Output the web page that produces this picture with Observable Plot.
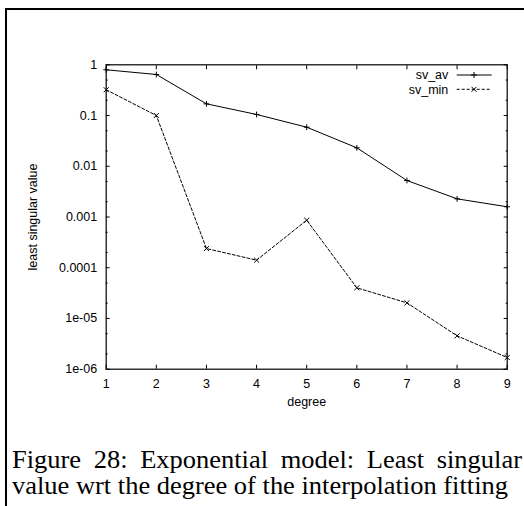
<!DOCTYPE html>
<html><head><meta charset="utf-8">
<script src="https://cdn.jsdelivr.net/npm/d3@7"></script>
<script src="https://cdn.jsdelivr.net/npm/@observablehq/plot@0.6"></script>
<style>
html,body{margin:0;padding:0;background:#fff;width:524px;height:506px;overflow:hidden;position:relative}
#frame{position:absolute;left:5px;top:8px;width:540px;height:520px;border-top:2px solid #000;border-left:2px solid #000}
#chart{position:absolute;left:0;top:0}
#caption{position:absolute;left:12px;top:447px;width:510px;font-family:"Liberation Serif","Times New Roman",serif;font-size:24.5px;line-height:26px;color:#000;transform-origin:0 0}
#caption div{white-space:nowrap}
#l1{text-align:justify;text-align-last:justify}
</style></head><body>
<div id="frame"></div>
<div id="chart"></div>
<div id="caption"><div id="l1">Figure 28: Exponential model: Least singular</div><div id="l2"><span id="l2s">value wrt the degree of the interpolation fitting</span></div></div>
<script>
const degrees = [1, 2, 3, 4, 5, 6, 7, 8, 9];
const svAv  = [0.797, 0.644, 0.170, 0.105, 0.0589, 0.0231, 0.00524, 0.00228, 0.00159];
const svMin = [0.322, 0.100, 0.000239, 0.000141, 0.000865, 4.02e-5, 2.03e-5, 4.55e-6, 1.70e-6];
const seriesNames = ["sv_av", "sv_min"];
const xTicks = [1, 2, 3, 4, 5, 6, 7, 8, 9];
const yTicks = [1, 0.1, 0.01, 0.001, 0.0001, 1e-5, 1e-6];
const yTickLabels = ["1", "0.1", "0.01", "0.001", "0.0001", "1e-05", "1e-06"];
const yMinor = [0.5, 0.2, 0.05, 0.02, 0.005, 0.002, 0.0005, 0.0002, 5e-5, 2e-5, 5e-6, 2e-6];
const xLabel = "degree";
const yLabel = "least singular value";

const data = degrees.map((d, i) => ({degree: d, sv_av: svAv[i], sv_min: svMin[i]}));
const font = '"Liberation Sans", Arial, Helvetica, sans-serif';
const noText = () => "";

const plot = Plot.plot({
  width: 524, height: 420,
  marginLeft: 105.7, marginRight: 17.3, marginTop: 64.3, marginBottom: 51.3,
  style: {fontFamily: font, fontSize: "12.5px", color: "#000", background: "transparent", overflow: "visible"},
  x: {domain: [1, 9]},
  y: {type: "log", domain: [1e-6, 1]},
  marks: [
    Plot.axisX(xTicks, {anchor: "bottom", tickSize: 0, tickPadding: 10, tickFormat: d => String(d), label: null}),
    Plot.axisX(xTicks, {anchor: "bottom", tickSize: -4, tickFormat: noText, label: null}),
    Plot.axisX(xTicks, {anchor: "top", tickSize: -4, tickFormat: noText, label: null}),
    Plot.axisY(yTicks, {anchor: "left", tickSize: 0, tickPadding: 9, tickFormat: d => yTickLabels[yTicks.indexOf(d)], label: null}),
    Plot.axisY(yTicks, {anchor: "left", tickSize: -4, tickFormat: noText, label: null}),
    Plot.axisY(yTicks, {anchor: "right", tickSize: -4, tickFormat: noText, label: null}),
    Plot.axisY(yMinor, {anchor: "left", tickSize: -2, tickFormat: noText, label: null}),
    Plot.axisY(yMinor, {anchor: "right", tickSize: -2, tickFormat: noText, label: null}),
    Plot.text([xLabel], {text: d => d, frameAnchor: "bottom", dy: 32.3, lineAnchor: "middle", textAnchor: "middle"}),
    Plot.text([yLabel], {text: d => d, frameAnchor: "left", rotate: -90, dx: -73.7, lineAnchor: "middle", textAnchor: "middle"}),
    Plot.line(data, {x: "degree", y: "sv_av", stroke: "#000", strokeWidth: 1}),
    Plot.dot(data, {x: "degree", y: "sv_av", symbol: "plus", r: 2, stroke: "#000", strokeWidth: 1}),
    Plot.line(data, {x: "degree", y: "sv_min", stroke: "#000", strokeWidth: 1, strokeDasharray: "3,2"}),
    Plot.dot(data, {x: "degree", y: "sv_min", symbol: "times", r: 2.4, stroke: "#000", strokeWidth: 1}),
    Plot.frame({stroke: "#000", strokeWidth: 1.2})
  ]
});
document.getElementById("chart").appendChild(plot);

// legend (inside the plot, gnuplot style)
const svg = d3.select(plot);
const leg = svg.append("g").attr("font-family", font).attr("font-size", "12.5px");
const rows = [{name: seriesNames[0], y: 75, dash: null, sym: d3.symbolPlus, size: 13.7},
              {name: seriesNames[1], y: 89.3, dash: "3,2", sym: d3.symbolTimes, size: 18}];
rows.forEach(r => {
  leg.append("text").attr("x", 448.3).attr("y", r.y + 4.3).attr("text-anchor", "end").attr("fill", "#000").text(r.name);
  leg.append("line").attr("x1", 456.7).attr("x2", 491.7).attr("y1", r.y).attr("y2", r.y)
     .attr("stroke", "#000").attr("stroke-width", 1).attr("stroke-dasharray", r.dash);
  leg.append("path").attr("d", d3.symbol(r.sym, r.size)()).attr("transform", `translate(474,${r.y})`)
     .attr("fill", "none").attr("stroke", "#000").attr("stroke-width", 1);
});

// stretch the caption horizontally so the second line spans like the reference
const cap = document.getElementById("caption");
const w = document.getElementById("l2s").getBoundingClientRect().width;
const s = Math.max(1, Math.min(1.3, 496 / w));
cap.style.width = (510 / s) + "px";
cap.style.transform = `scaleX(${s})`;
</script>
</body></html>
